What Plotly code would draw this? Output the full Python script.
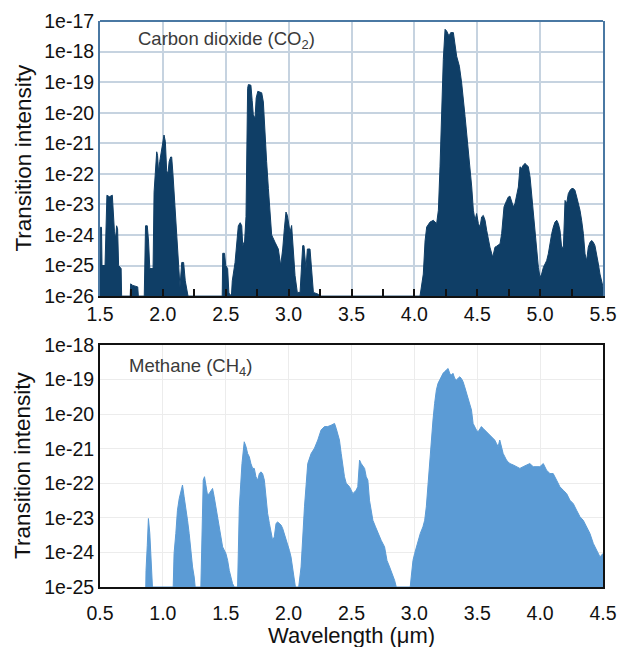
import plotly.graph_objects as go

# ---------------- data ----------------
# CO2: wavelength (um) and log10(transition intensity)
co2_wl = [1.500, 1.503, 1.512, 1.516, 1.540, 1.555, 1.575, 1.598, 1.615, 1.625, 1.632, 1.640, 1.648, 1.668, 1.672,
          1.740, 1.744, 1.760, 1.800, 1.805,
          1.852, 1.856, 1.862, 1.876, 1.886, 1.896, 1.922, 1.930, 1.940, 1.951, 1.958, 1.966, 1.975, 1.990, 2.000,
          2.009, 2.020, 2.030, 2.040, 2.050, 2.062, 2.070, 2.080, 2.096, 2.110, 2.123, 2.136, 2.150, 2.165, 2.178,
          2.190, 2.200,
          2.472, 2.476, 2.490, 2.500, 2.515, 2.525, 2.545, 2.552, 2.574, 2.590, 2.600, 2.615, 2.627, 2.635, 2.650,
          2.661, 2.668, 2.674, 2.680, 2.700, 2.710, 2.719, 2.733, 2.742, 2.755, 2.786, 2.799, 2.812, 2.825, 2.839,
          2.852, 2.865, 2.892, 2.918, 2.937, 2.953, 2.966, 2.979, 2.990, 3.000, 3.011, 3.024, 3.038, 3.051, 3.069,
          3.091, 3.112, 3.122, 3.138, 3.149, 3.170, 3.183, 3.197, 3.236, 3.250,
          4.045, 4.060, 4.071, 4.085, 4.098, 4.124, 4.151, 4.177, 4.191, 4.204, 4.217, 4.230, 4.244, 4.257, 4.275,
          4.289, 4.310, 4.323, 4.336, 4.358, 4.376, 4.403, 4.429, 4.456, 4.469, 4.482, 4.495, 4.509, 4.522, 4.535,
          4.548, 4.562, 4.575, 4.588, 4.601, 4.623, 4.641, 4.654, 4.681, 4.694, 4.713, 4.734, 4.747, 4.760, 4.774,
          4.787, 4.800, 4.813, 4.827, 4.840, 4.853, 4.867, 4.880, 4.893, 4.906, 4.920, 4.933, 4.946, 4.959, 4.973,
          4.986, 4.999, 5.012, 5.026, 5.052, 5.065, 5.079, 5.092, 5.105, 5.118, 5.132, 5.145, 5.158, 5.171, 5.185,
          5.198, 5.211, 5.224, 5.238, 5.251, 5.264, 5.277, 5.291, 5.304, 5.317, 5.330, 5.344, 5.357, 5.370, 5.383,
          5.397, 5.410, 5.423, 5.436, 5.450, 5.463, 5.476, 5.489, 5.500]
co2_log10 = [-24.9, -23.75, -23.75, -25.0, -25.0, -22.7, -22.75, -22.7, -23.9, -24.1, -23.7, -23.8, -25.0, -25.1, -26,
             -26, -25.6, -25.65, -25.7, -26,
             -26, -25.0, -23.7, -23.7, -24.2, -25.1, -25.1, -22.6, -22.0, -21.28, -21.4, -21.95, -21.6, -21.17, -21.0,
             -20.73, -20.95, -21.9, -22.0, -21.6, -21.45, -21.45, -22.0, -23.1, -23.8, -24.9, -25.7, -24.9, -24.9, -25.5,
             -25.8, -26,
             -26, -24.6, -24.6, -25.0, -25.1, -25.9, -26, -25.5, -24.9, -24.2, -23.7, -23.6, -23.7, -24.35, -24.2,
             -23.4, -21.0, -19.2, -19.08, -19.1, -19.6, -20.07, -20.18, -19.52, -19.3, -19.35, -19.65, -20.84, -21.6, -22.48,
             -23.14, -24.0, -24.24, -24.46, -25.0, -24.46, -23.8, -23.25, -23.36, -23.58, -23.91, -23.69, -24.46, -25.33, -25.88,
             -25.88, -24.35, -24.35, -25.11, -24.46, -24.46, -25.22, -25.88, -25.94, -26,
             -26, -25.6, -25.28, -24.2, -23.74, -23.58, -23.52, -23.63, -23.19, -21.77, -19.58, -18.26, -17.27, -17.33, -17.49,
             -17.38, -17.38, -17.71, -18.15, -18.48, -19.03, -20.12, -21.22, -22.43, -23.19, -23.52, -23.30, -23.63, -23.74, -23.41,
             -23.36, -23.52, -23.85, -24.18, -24.4, -24.73, -24.4, -24.37, -24.29, -23.96, -23.08, -22.87, -22.76, -22.73, -22.92,
             -23.08, -22.97, -22.65, -22.43, -21.77, -21.82, -21.71, -21.66, -21.71, -21.77, -22.1, -22.65, -23.19, -23.96, -24.51,
             -25.06, -25.39, -25.28, -25.06, -24.84, -24.62, -24.18, -23.96, -23.74, -23.58, -23.52, -23.63, -23.85, -24.4, -24.4,
             -22.87, -22.97, -22.65, -22.54, -22.48, -22.48, -22.54, -22.76, -22.97, -23.19, -23.52, -23.96, -24.62, -24.84, -24.4,
             -24.24, -24.18, -24.24, -24.35, -24.62, -24.95, -25.28, -25.5, -25.7]

# CH4: wavelength (um) and log10(transition intensity)
ch4_wl = [0.864, 0.866, 0.876, 0.885, 0.896, 0.904, 0.917,
          1.082, 1.089, 1.103, 1.116, 1.130, 1.143, 1.156, 1.169, 1.183, 1.196, 1.209, 1.222, 1.236, 1.249, 1.257,
          1.302, 1.310, 1.321, 1.331, 1.342, 1.355, 1.368, 1.382, 1.395, 1.408, 1.422, 1.435, 1.448, 1.461, 1.475,
          1.501, 1.515, 1.528, 1.541, 1.554, 1.568,
          1.594, 1.608, 1.629, 1.647, 1.661, 1.674, 1.687, 1.700, 1.714, 1.727, 1.740, 1.754, 1.767, 1.780, 1.793,
          1.807, 1.820, 1.833, 1.847, 1.860, 1.873, 1.886, 1.900, 1.913, 1.926, 1.940, 1.953, 1.966, 1.979, 1.993,
          2.006, 2.019, 2.032, 2.046, 2.054,
          2.080, 2.099, 2.126, 2.152, 2.179, 2.205, 2.232, 2.258, 2.285, 2.311, 2.338, 2.365, 2.378, 2.404, 2.418,
          2.431, 2.444, 2.458, 2.484, 2.511, 2.537, 2.550, 2.564, 2.577, 2.604, 2.617, 2.630, 2.643, 2.657, 2.670,
          2.691, 2.710, 2.736, 2.763, 2.782, 2.803, 2.824, 2.843, 2.856,
          2.967, 2.975, 2.989, 3.002, 3.015, 3.029, 3.047, 3.068, 3.082, 3.095, 3.108, 3.121, 3.135, 3.148, 3.161,
          3.175, 3.188, 3.201, 3.214, 3.228, 3.241, 3.254, 3.268, 3.281, 3.294, 3.307, 3.321, 3.334, 3.347, 3.361,
          3.374, 3.387, 3.400, 3.414, 3.427, 3.440, 3.454, 3.467, 3.480, 3.493, 3.507, 3.520, 3.533, 3.546, 3.560,
          3.573, 3.586, 3.600, 3.613, 3.626, 3.639, 3.653, 3.666, 3.679, 3.693, 3.706, 3.719, 3.732, 3.746, 3.759,
          3.786, 3.812, 3.839, 3.865, 3.892, 3.918, 3.945, 3.971, 3.998, 4.025, 4.051, 4.078, 4.104, 4.131, 4.157,
          4.184, 4.211, 4.237, 4.264, 4.290, 4.317, 4.343, 4.370, 4.396, 4.423, 4.450, 4.476, 4.500]
ch4_log10 = [-25, -24.52, -23.8, -23.02, -23.45, -24.23, -25,
             -25, -24.03, -23.45, -22.78, -22.44, -22.25, -22.05, -22.39, -22.68, -23.07, -23.45, -24.03, -24.42, -24.71, -25,
             -25, -23.26, -21.91, -21.81, -22.1, -22.34, -22.3, -22.2, -22.15, -22.39, -22.68, -22.97, -23.26, -23.55, -23.84,
             -24.03, -24.23, -24.52, -24.76, -24.9, -25,
             -25, -22.68, -21.43, -20.8, -20.94, -21.14, -21.23, -21.43, -21.57, -21.57, -21.81, -21.91, -21.72, -21.67, -21.72,
             -21.91, -22.39, -22.87, -23.16, -23.45, -23.65, -23.55, -23.16, -23.12, -23.16, -23.21, -23.31, -23.45, -23.65, -23.74,
             -23.94, -24.13, -24.42, -24.71, -25,
             -25, -24.42, -22.68, -21.43, -21.14, -20.99, -20.75, -20.46, -20.36, -20.36, -20.32, -20.27, -20.41, -20.75, -21.14,
             -21.52, -21.81, -22.0, -22.1, -22.3, -22.2, -22.1, -21.33, -21.43, -21.57, -21.81, -21.91, -22.49, -22.87, -23.07,
             -23.26, -23.45, -23.65, -23.84, -24.23, -24.42, -24.61, -24.81, -25,
             -25, -24.71, -24.23, -24.03, -23.84, -23.65, -23.45, -23.26, -23.07, -22.68, -22.0, -21.43, -20.75, -20.17, -19.69,
             -19.3, -19.11, -19.01, -18.92, -18.82, -18.77, -18.72, -18.68, -18.82, -18.87, -18.82, -18.97, -19.01, -18.97, -18.92,
             -18.97, -19.06, -19.21, -19.4, -19.5, -19.69, -19.88, -20.27, -20.36, -20.46, -20.51, -20.41, -20.36, -20.41, -20.46,
             -20.51, -20.56, -20.61, -20.65, -20.7, -20.75, -20.85, -20.94, -20.75, -20.99, -21.14, -21.23, -21.33, -21.38, -21.43,
             -21.47, -21.52, -21.57, -21.52, -21.47, -21.43, -21.52, -21.52, -21.52, -21.43, -21.62, -21.72, -21.72, -21.91, -22.1,
             -22.2, -22.3, -22.49, -22.59, -22.78, -22.97, -23.07, -23.26, -23.45, -23.74, -23.94, -24.13, -24.03]

co2_yticks = ["1e-26", "1e-25", "1e-24", "1e-23", "1e-22", "1e-21", "1e-20", "1e-19", "1e-18", "1e-17"]
ch4_yticks = ["1e-25", "1e-24", "1e-23", "1e-22", "1e-21", "1e-20", "1e-19", "1e-18"]
co2_xticks = [1.5, 2.0, 2.5, 3.0, 3.5, 4.0, 4.5, 5.0, 5.5]
ch4_xticks = [0.5, 1.0, 1.5, 2.0, 2.5, 3.0, 3.5, 4.0, 4.5]

# ---------------- styling ----------------
NAVY = "#0f3e66"
LIGHT = "#5b9bd5"
BLUE_FRAME = "#4a78a3"
FONT = "Liberation Sans, Arial, sans-serif"

co2_floor = float(co2_yticks[0])
ch4_floor = float(ch4_yticks[0])

fig = go.Figure()
fig.add_trace(go.Scatter(x=co2_wl, y=[co2_floor] * len(co2_wl), mode="lines",
                         line=dict(width=0, color=NAVY), hoverinfo="skip", showlegend=False,
                         xaxis="x", yaxis="y"))
fig.add_trace(go.Scatter(x=co2_wl, y=[10 ** v for v in co2_log10], mode="lines", fill="tonexty",
                         fillcolor=NAVY, line=dict(width=1, color=NAVY), showlegend=False,
                         name="CO2", xaxis="x", yaxis="y"))
fig.add_trace(go.Scatter(x=ch4_wl, y=[ch4_floor] * len(ch4_wl), mode="lines",
                         line=dict(width=0, color=LIGHT), hoverinfo="skip", showlegend=False,
                         xaxis="x2", yaxis="y2"))
fig.add_trace(go.Scatter(x=ch4_wl, y=[10 ** v for v in ch4_log10], mode="lines", fill="tonexty",
                         fillcolor=LIGHT, line=dict(width=1, color=LIGHT), showlegend=False,
                         name="CH4", xaxis="x2", yaxis="y2"))

tickfont = dict(family=FONT, size=19.5, color="#111111")

fig.update_layout(
    width=618, height=647, autosize=False,
    margin=dict(l=100, r=15, t=21, b=60, autoexpand=False),
    paper_bgcolor="white", plot_bgcolor="white",
    font=dict(family=FONT),
    xaxis=dict(domain=[0, 1], anchor="y", range=[co2_xticks[0], co2_xticks[-1]],
               tickvals=co2_xticks, ticktext=[f"{v:.1f}" for v in co2_xticks],
               showgrid=True, gridcolor="#c6d3e0", gridwidth=1.5,
               showline=True, linecolor="#111111", linewidth=2,
               ticks="inside", ticklen=7, tickcolor="#111111", tickwidth=1.5,
               minor=dict(dtick=0.25, ticks="inside", ticklen=7, tickcolor="#111111", tickwidth=1.5, showgrid=False),
               tickfont=tickfont, zeroline=False, automargin=False),
    yaxis=dict(domain=[0.514, 1], anchor="x", type="log", range=[-26, -17],
               tickvals=[float(t) for t in co2_yticks], ticktext=co2_yticks,
               showgrid=True, gridcolor="#c6d3e0", gridwidth=1.5,
               showline=True, linecolor=BLUE_FRAME, linewidth=2, mirror=True,
               ticks="", tickfont=tickfont, zeroline=False, automargin=False),
    xaxis2=dict(domain=[0, 1], anchor="y2", range=[ch4_xticks[0], ch4_xticks[-1]],
                tickvals=ch4_xticks, ticktext=[f"{v:.1f}" for v in ch4_xticks],
                showgrid=True, gridcolor="#ececec", gridwidth=1,
                showline=True, linecolor="#111111", linewidth=2, mirror=True,
                ticks="outside", ticklen=8, tickcolor="rgba(0,0,0,0)",
                tickfont=tickfont, zeroline=False, automargin=False),
    yaxis2=dict(domain=[0, 0.4276], anchor="x2", type="log", range=[-25, -18],
                tickvals=[float(t) for t in ch4_yticks], ticktext=ch4_yticks,
                showgrid=True, gridcolor="#ececec", gridwidth=1,
                showline=True, linecolor="#111111", linewidth=2, mirror=True,
                ticks="", tickfont=tickfont, zeroline=False, automargin=False),
    shapes=[dict(type="line", xref="x domain", yref="y domain", x0=0, x1=1, y0=1, y1=1,
                 line=dict(color=BLUE_FRAME, width=2))],
    annotations=[
        dict(text="Carbon dioxide (CO<sub>2</sub>)", xref="paper", yref="paper", x=0.0716, y=0.966,
             xanchor="left", yanchor="middle", showarrow=False,
             font=dict(family=FONT, size=18.5, color="#3a3a3a")),
        dict(text="Methane (CH<sub>4</sub>)", xref="paper", yref="paper", x=0.0537, y=0.389,
             xanchor="left", yanchor="middle", showarrow=False,
             font=dict(family=FONT, size=18.5, color="#3a3a3a")),
        dict(text="Transition intensity", xref="paper", yref="paper", x=-0.153, y=0.757,
             xanchor="center", yanchor="middle", textangle=-90, showarrow=False,
             font=dict(family=FONT, size=22.5, color="#111111")),
        dict(text="Transition intensity", xref="paper", yref="paper", x=-0.153, y=0.214,
             xanchor="center", yanchor="middle", textangle=-90, showarrow=False,
             font=dict(family=FONT, size=22.5, color="#111111")),
        dict(text="Wavelength (μm)", xref="paper", yref="paper", x=0.5, y=-0.085,
             xanchor="center", yanchor="middle", showarrow=False,
             font=dict(family=FONT, size=22, color="#111111")),
    ],
)

fig.write_html("out.html", config={"displayModeBar": False},
               post_script="document.body.style.margin='0px';document.body.style.overflow='hidden';")
